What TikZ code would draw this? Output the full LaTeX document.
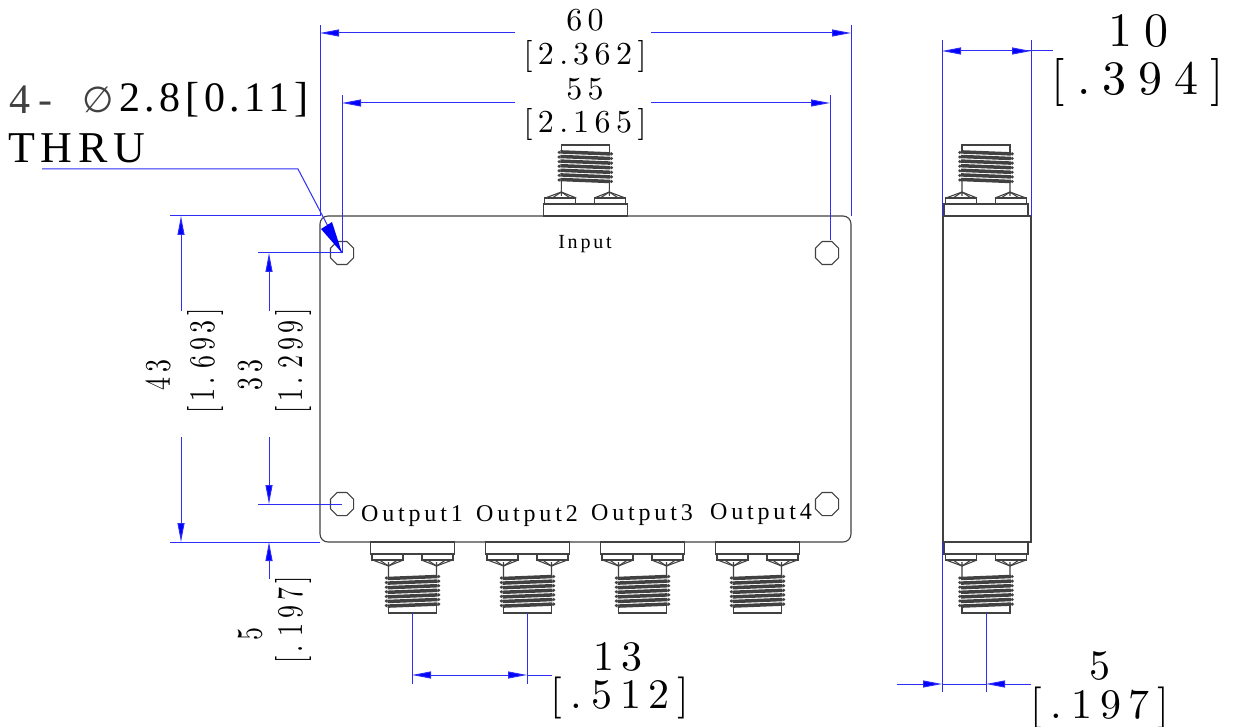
\documentclass[tikz,border=0pt]{standalone}
\usepackage{fontspec}
\usepackage{graphicx}
\newfontfamily\labelfont{Liberation Serif}
\newfontfamily\symfont{DejaVu Sans}
\newfontfamily\dimfont[OpticalSize=10]{Latin Modern Roman}
\usetikzlibrary{arrows.meta,shapes.geometric}
\definecolor{dimblue}{RGB}{45,45,245}
\definecolor{body}{RGB}{65,65,65}
\newcommand{\spc}[1]{\addfontfeatures{LetterSpace=#1}}
\newcommand{\narrow}[1]{\scalebox{.72}[1]{#1}}
\tikzset{
  outline/.style={draw=body,line width=1.1pt},
  dimline/.style={draw=dimblue,line width=1pt},
  dimtip/.style={dimline,-{Triangle[length=19pt,width=7pt,fill=blue]}},
  dimtext/.style={text=black,font=\dimfont\fontsize{32}{36}\selectfont\spc{17},inner sep=0pt,anchor=center},
  rottext/.style={text=black,font=\dimfont\fontsize{36}{40}\selectfont\spc{18},inner sep=0pt,anchor=center,rotate=90},
  bigtext/.style={text=black,font=\dimfont\fontsize{48}{52}\selectfont\spc{25},inner sep=0pt,anchor=center},
  midtext/.style={text=black,font=\dimfont\fontsize{42}{46}\selectfont\spc{18},inner sep=0pt,anchor=center},
  notetext/.style={text=black,font=\labelfont\fontsize{42}{46}\selectfont\spc{11},inner sep=0pt,anchor=west},
  lbl/.style={text=black,font=\labelfont\fontsize{20}{24}\selectfont\spc{14},inner sep=0pt,anchor=center},
  outlbl/.style={text=black,font=\labelfont\fontsize{24}{28}\selectfont\spc{16},inner sep=0pt,anchor=center},
  hole/.style={regular polygon,regular polygon sides=8,minimum size=25pt,draw=body,line width=1.1pt,inner sep=0pt},
}
% connector: centre x, base y, direction (-1 up, +1 down)
\newcommand{\connector}[3]{%
\begin{scope}[shift={(#1,#2)},yscale=#3]
  \draw[outline] (-42,0) rectangle (42,12);
  \draw[outline] (-40.5,12) -- (-40.5,18) -- (-9.5,18) -- (-9.5,12);
  \draw[outline] (9.5,12) -- (9.5,18) -- (40.5,18) -- (40.5,12);
  \draw[outline] (-40,18) -- (-24,24) -- (-9,18);
  \draw[outline] (40,18) -- (24,24) -- (9,18);
  \draw[outline] (-33,18) -- (-24,24) -- (-15,18) (-24,20) -- (-24,35);
  \draw[outline] (33,18) -- (24,24) -- (15,18) (24,20) -- (24,35);
  \draw[outline] (-24,64) -- (-24,71) -- (24,71) -- (24,64);
  \foreach \t in {0,1,...,6}{
    \draw[draw=body,line width=3.5pt] (-25,{36.5+\t*4.6}) -- (25,{34.5+\t*4.6});
    \fill[body] (-26.2,{36+\t*4.6}) circle (1.7pt);
    \fill[body] (26.2,{34.5+\t*4.6}) circle (1.7pt);
  }
\end{scope}}
\begin{document}
\begin{tikzpicture}[x=1pt,y=-1pt]
\useasboundingbox (0,0) rectangle (1237,727);
% main body
\draw[outline,rounded corners=8pt] (320,216) rectangle (851,542);
\node[hole] (h1) at (342,253) {};
\node[hole] (h2) at (827,253) {};
\node[hole] (h3) at (342,504) {};
\node[hole] (h4) at (827,504) {};
\connector{585.3}{216}{-1}
\connector{412.5}{542}{1}
\connector{527.5}{542}{1}
\connector{642.5}{542}{1}
\connector{757.5}{542}{1}
% side view
\draw[outline] (943,216) rectangle (1031,542);
\connector{986}{216}{-1}
\connector{986}{542}{1}
% labels
\node[lbl] (in) at (585,244) {Input};
\node[outlbl] (o1) at (412,516) {Output1};
\node[outlbl] (o2) at (527,516) {Output2};
\node[outlbl] (o3) at (642,515) {Output3};
\node[outlbl] (o4) at (761,514) {Output4};
% 60
\node[dimtext] (t60) at (585,20) {60};
\node[dimtext] (t60b) at (585,56.5) {[2.\kern5pt 362]};
\draw[dimline] (320,25) -- (320,216) (851,25) -- (851,216);
\draw[dimtip] (515,33) -- (320,33);
\draw[dimtip] (651,33) -- (851,33);
% 55
\node[dimtext] (t55) at (585,89) {55};
\node[dimtext] (t55b) at (585,125) {[2.\kern5pt 165]};
\draw[dimline] (342,95) -- (342,253) (830,95) -- (830,240);
\draw[dimtip] (515,103) -- (342,103);
\draw[dimtip] (651,103) -- (830,103);
% 10
\node[bigtext] (t10) at (1138,31) {10};
\node[bigtext] (t10b) at (1138,83) {[.\kern12pt 394]};
\draw[dimline] (942,40) -- (942,216) (1031,40) -- (1031,216);
\draw[dimtip] (1000,51) -- (942,51);
\draw[dimline] (1000,51) -- (1053,51);
\draw[dimtip] (980,51) -- (1031,51);
% note
\node[notetext,font=\labelfont\fontsize{42}{46}\selectfont\spc{20}] (n1) at (9,100) {\color{body}4-};
\node[notetext,font=\symfont\fontsize{36}{40}\selectfont] (n2) at (82,100) {\color{body}∅};
\node[notetext] (n3) at (119,100) {2.8[0.11]};
\node[notetext,font=\labelfont\fontsize{44}{48}\selectfont\spc{13}] (n4) at (8,148) {THRU};
\coordinate (lead) at (298,169);
\draw[dimline] (42,169) -- (lead) -- (342,253);
\fill[blue] (342,253) -- (321,229) -- (332,222) -- cycle;
% 43
\node[rottext] (t43) at (158,375) {\narrow{43}};
\node[rottext] (t43b) at (205,361) {\narrow{[1.\kern12pt 693]}};
\draw[dimline] (170,216) -- (320,216) (170,542) -- (320,542);
\draw[dimtip] (181,311) -- (181,216);
\draw[dimtip] (181,437) -- (181,542);
% 33
\node[rottext] (t33) at (250,375) {\narrow{33}};
\node[rottext] (t33b) at (293,361) {\narrow{[1.\kern12pt 299]}};
\draw[dimline] (258,253) -- (342,253) (258,504) -- (342,504);
\draw[dimtip] (269,311) -- (269,253);
\draw[dimtip] (269,437) -- (269,504);
% 5 left
\draw[dimline] (258,542) -- (320,542);
\draw[dimtip] (269,579) -- (269,542);
\node[rottext] (t5) at (250,634) {\narrow{5}};
\node[rottext] (t5b) at (293,620) {\narrow{[.\kern12pt 197]}};
% 13
\node[midtext] (t13) at (618,657) {13};
\node[midtext] (t13b) at (620,698) {[.\kern10pt 512]};
\draw[dimline] (412,613) -- (412,684) (527,613) -- (527,684);
\draw[dimtip] (470,675) -- (412,675);
\draw[dimtip] (470,675) -- (527,675);
\draw[dimline] (527,675) -- (552,675);
% 5 right
\node[midtext] (t5r) at (1100,666) {5};
\node[midtext] (t5rb) at (1100,708) {[.\kern10pt 197]};
\draw[dimline] (942,542) -- (942,692) (986,613) -- (986,692);
\draw[dimtip] (897,684) -- (942,684);
\draw[dimtip] (1031,684) -- (986,684);
\draw[dimline] (942,684) -- (986,684);
\end{tikzpicture}
\end{document}
